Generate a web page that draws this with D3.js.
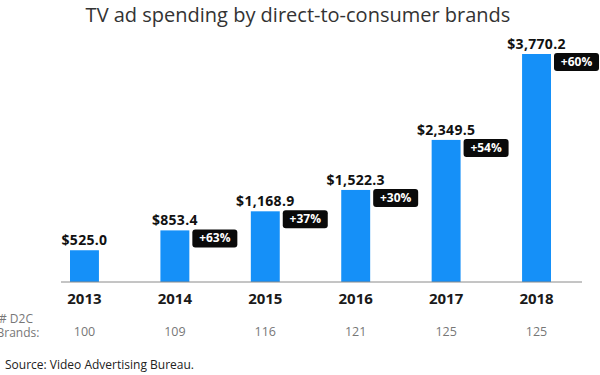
<!DOCTYPE html>
<html lang="en">
<head>
    <meta charset="UTF-8">
    <title>TV ad spending by direct-to-consumer brands</title>
    <script src="https://d3js.org/d3.v7.min.js"></script>
    <style>
        body { margin: 0; background: #fff; font-family: "Open Sans", sans-serif; }
        svg { display: block; }
    </style>
</head>
<body>
<div id="chart"></div>
<script>
    // data
    var years = ["2013", "2014", "2015", "2016", "2017", "2018"];
    var spend = [525.0, 853.4, 1168.9, 1522.3, 2349.5, 3770.2];
    var growth = [null, "+63%", "+37%", "+30%", "+54%", "+60%"];
    var brands = [100, 109, 116, 121, 125, 125];

    var width = 600, height = 375;

    var svg = d3.select("#chart").append("svg")
        .attr("width", width)
        .attr("height", height);

    var x = d3.scaleBand()
        .domain(years)
        .range([70, 551])
        .paddingInner(0.68)
        .paddingOuter(0);

    var y = d3.scaleLinear()
        .domain([0, d3.max(spend)])
        .range([282, 54]);

    var fmt = d3.format(",.1f");

    svg.append("text")
        .attr("x", 298)
        .attr("y", 22)
        .attr("text-anchor", "middle")
        .style("font-size", "20px")
        .style("fill", "#333")
        .text("TV ad spending by direct-to-consumer brands");

    var data = years.map(function(d, i) {
        return { year: d, val: spend[i], pct: growth[i], n: brands[i] };
    });

    // bars
    svg.append("g").selectAll("rect")
        .data(data)
        .enter().append("rect")
        .attr("x", d => x(d.year))
        .attr("y", d => y(d.val))
        .attr("width", x.bandwidth())
        .attr("height", d => y(0) - y(d.val))
        .style("fill", "#1590f8");

    // baseline
    svg.append("line")
        .attr("x1", 61).attr("x2", 582)
        .attr("y1", y(0)).attr("y2", y(0))
        .style("stroke", "#8a8a8a")
        .style("stroke-width", 1);

    // value labels
    svg.append("g").selectAll("text")
        .data(data)
        .enter().append("text")
        .attr("x", d => x(d.year) + x.bandwidth() / 2)
        .attr("y", d => y(d.val) - 5)
        .attr("text-anchor", "middle")
        .style("font-size", "14px")
        .style("font-weight", "bold")
        .style("letter-spacing", "0.3px")
        .style("fill", "#111")
        .text(d => "$" + fmt(d.val));

    // growth badges
    var badge = svg.append("g").selectAll("g")
        .data(data.filter(d => d.pct))
        .enter().append("g")
        .attr("transform", d => "translate(" + (x(d.year) + x.bandwidth() + 3) + "," + (y(d.val) - 1) + ")");

    badge.append("rect")
        .attr("width", 45)
        .attr("height", 18)
        .attr("rx", 3)
        .style("fill", "#0a0a0a");

    badge.append("text")
        .attr("x", 22.5)
        .attr("y", 13)
        .attr("text-anchor", "middle")
        .style("font-size", "12px")
        .style("font-weight", "bold")
        .style("fill", "#fff")
        .text(d => d.pct);

    // year labels
    svg.append("g").selectAll("text")
        .data(data)
        .enter().append("text")
        .attr("x", d => x(d.year) + x.bandwidth() / 2)
        .attr("y", 304)
        .attr("text-anchor", "middle")
        .style("font-size", "15px")
        .style("font-weight", "bold")
        .style("fill", "#1a1a1a")
        .text(d => d.year);

    // brand counts
    svg.append("g").selectAll("text")
        .data(data)
        .enter().append("text")
        .attr("x", d => x(d.year) + x.bandwidth() / 2)
        .attr("y", 336)
        .attr("text-anchor", "middle")
        .style("font-size", "12.5px")
        .style("fill", "#777")
        .text(d => d.n);

    svg.append("text")
        .attr("x", 16).attr("y", 323)
        .attr("text-anchor", "middle")
        .style("font-size", "12px")
        .style("fill", "#777")
        .text("# D2C");

    svg.append("text")
        .attr("x", 18).attr("y", 337)
        .attr("text-anchor", "middle")
        .style("font-size", "12px")
        .style("fill", "#777")
        .text("Brands:");

    svg.append("text")
        .attr("x", 5).attr("y", 369)
        .style("font-size", "12px")
        .style("fill", "#222")
        .text("Source: Video Advertising Bureau.");
</script>
</body>
</html>
